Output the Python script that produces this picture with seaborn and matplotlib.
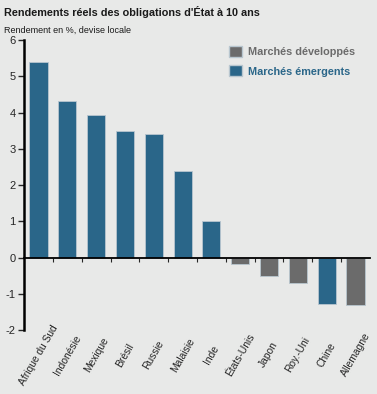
import matplotlib
matplotlib.use('Agg')
import matplotlib.pyplot as plt
import pandas as pd
import seaborn as sns
from matplotlib.patches import Patch

# Données
pays = ['Afrique du Sud', 'Indonésie', 'Mexique', 'Brésil', 'Russie', 'Malaisie', 'Inde',
        'États-Unis', 'Japon', 'Roy.-Uni', 'Chine', 'Allemagne']
rendements = [5.4, 4.33, 3.93, 3.5, 3.4, 2.4, 1.0, -0.18, -0.5, -0.7, -1.28, -1.3]
groupes = ['Marchés émergents'] * 7 + ['Marchés développés'] * 3 + ['Marchés émergents', 'Marchés développés']
ordre_groupes = ['Marchés développés', 'Marchés émergents']
couleurs = {'Marchés développés': '#6b6b6b', 'Marchés émergents': '#2a6689'}
yticks = [-2, -1, 0, 1, 2, 3, 4, 5, 6]

df = pd.DataFrame({'Pays': pays, 'Rendement': rendements, 'Groupe': groupes})

sns.set_style('white')
plt.rcParams['font.family'] = ['Liberation Sans', 'DejaVu Sans']
bg = '#e8e9e8'

fig = plt.figure(figsize=(3.77, 3.94), dpi=100, facecolor=bg)
ax = fig.add_axes([0.064, 0.162, 0.917, 0.736], facecolor=bg)

sns.barplot(data=df, x='Pays', y='Rendement', hue='Groupe', hue_order=ordre_groupes,
            palette=couleurs, saturation=1, dodge=False, width=0.63, edgecolor='#b8c6cf',
            linewidth=0.6, legend=False, ax=ax)

ax.set_ylim(-2, 6)
ax.set_xlim(-0.5, len(pays) - 0.5)
ax.set_yticks(yticks)
ax.set_yticklabels([str(v) for v in yticks])
ax.set_xlabel('')
ax.set_ylabel('')

for s in ['top', 'right']:
    ax.spines[s].set_visible(False)
ax.spines['left'].set_linewidth(1.8)
ax.spines['left'].set_color('black')
ax.spines['bottom'].set_position(('data', 0))
ax.spines['bottom'].set_linewidth(1.3)
ax.spines['bottom'].set_color('black')

ax.tick_params(axis='y', direction='out', length=4, width=1, labelsize=8, pad=2, left=True)
ax.set_xticks(range(len(pays)))
ax.set_xticklabels(pays, rotation=60, ha='center', va='center', rotation_mode='anchor',
                   fontsize=7.4)
ax.tick_params(axis='x', which='major', length=0, pad=70)
ax.set_xticks([i + 0.5 for i in range(len(pays) - 1)], minor=True)
ax.tick_params(axis='x', which='minor', direction='out', length=3, width=0.8, bottom=True)

# Légende
handles = [Patch(facecolor=couleurs[g], edgecolor='#b8c6cf', label=g) for g in ordre_groupes]
leg = ax.legend(handles=handles, loc='upper left', bbox_to_anchor=(0.592, 0.98), frameon=False,
                fontsize=7.8, handlelength=1.2, handleheight=1.2, handletextpad=0.6,
                labelspacing=0.75, borderpad=0, borderaxespad=0,
                labelcolor=[couleurs[g] for g in ordre_groupes])
for t in leg.get_texts():
    t.set_fontweight('bold')

fig.text(0.011, 0.984, "Rendements réels des obligations d'État à 10 ans", fontsize=7.8,
         fontweight='bold', va='top', ha='left', color='#1a1a1a')
fig.text(0.011, 0.935, 'Rendement en %, devise locale', fontsize=6.5, va='top', ha='left',
         color='#1a1a1a')

fig.savefig('out.png', dpi=100, facecolor=bg)
